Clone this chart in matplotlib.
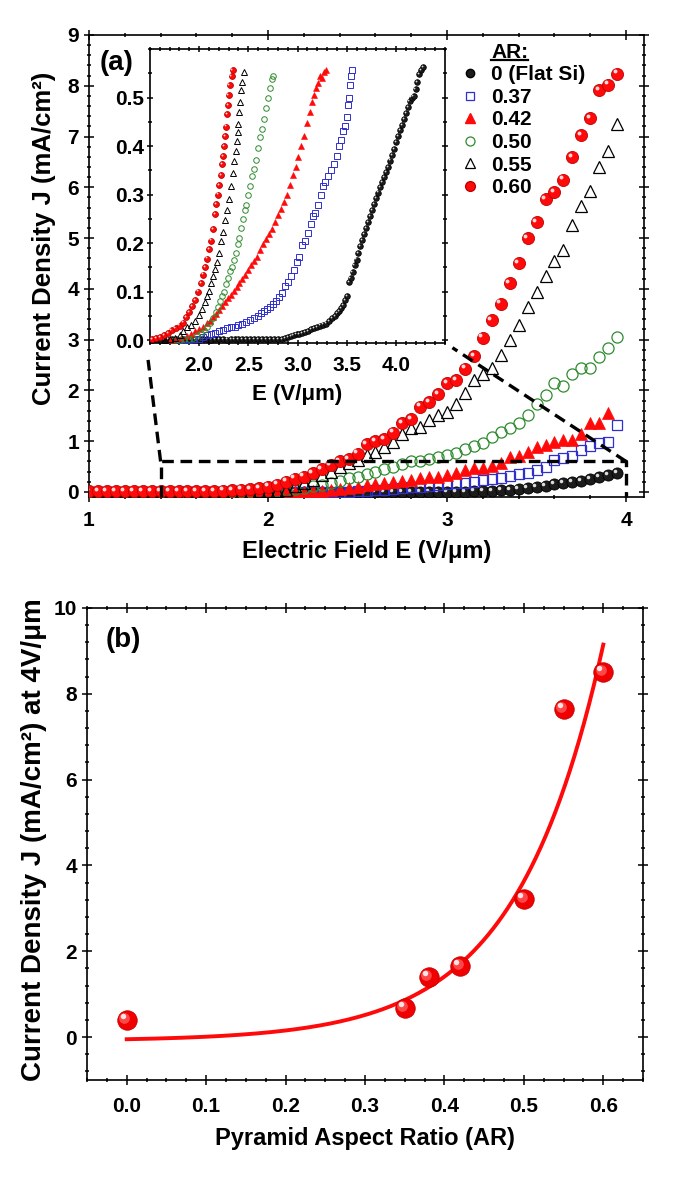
import numpy as np
import matplotlib
matplotlib.use('Agg')
import matplotlib.pyplot as plt
from matplotlib import font_manager
from matplotlib.lines import Line2D
from matplotlib.ticker import MultipleLocator, FormatStrFormatter
from matplotlib.transforms import offset_copy

names = {f.name for f in font_manager.fontManager.ttflist}
NARROW = 'Liberation Sans Narrow' if 'Liberation Sans Narrow' in names else 'Liberation Sans'
WIDE = 'Liberation Sans'
plt.rcParams['font.family'] = [NARROW, 'DejaVu Sans']
plt.rcParams['font.weight'] = 'bold'
plt.rcParams['axes.labelweight'] = 'bold'

# ---- panel (a) main data: J (mA/cm2) on a 0.05 V/um grid starting at 1.00
E = np.round(np.arange(1.0, 3.951, 0.05), 2)
j_ar000 = [0.0] * 43 + [0.01, 0.01, 0.02, 0.03, 0.04, 0.05, 0.07, 0.09, 0.12,
                       0.15, 0.17, 0.20, 0.22, 0.26, 0.29, 0.33, 0.37]
j_ar037 = [0.0] * 30 + [0.01, 0.02, 0.03, 0.04, 0.05, 0.07, 0.09, 0.10, 0.12, 0.14,
                       0.15, 0.17, 0.18, 0.20, 0.24, 0.25, 0.27, 0.31, 0.35, 0.38,
                       0.43, 0.50, 0.62, 0.66, 0.71, 0.83, 0.90, 0.97, 0.99, 1.32]
j_ar042 = [0.0] * 25 + [0.01, 0.02, 0.03, 0.05, 0.07, 0.10, 0.14, 0.15, 0.18, 0.20,
                       0.22, 0.23, 0.27, 0.29, 0.30, 0.33, 0.38, 0.43, 0.47, 0.47,
                       0.51, 0.56, 0.68, 0.71, 0.79, 0.89, 0.92, 0.99, 1.02, 1.02,
                       1.14, 1.35, 1.35, 1.55]
j_ar050 = [0.0] * 21 + [0.01, 0.03, 0.05, 0.08, 0.11, 0.14, 0.17, 0.22, 0.27, 0.30,
                       0.35, 0.40, 0.45, 0.50, 0.55, 0.60, 0.61, 0.64, 0.68, 0.73,
                       0.77, 0.84, 0.90, 0.97, 1.09, 1.18, 1.25, 1.35, 1.51, 1.73,
                       1.91, 2.14, 2.09, 2.33, 2.44, 2.45, 2.66, 2.84, 3.05]
j_ar055 = [0.0] * 18 + [0.00, 0.01, 0.01, 0.02, 0.04, 0.12, 0.18, 0.24, 0.33, 0.40,
                       0.49, 0.56, 0.63, 0.73, 0.79, 0.88, 0.98, 1.15, 1.25, 1.28,
                       1.41, 1.51, 1.58, 1.74, 1.94, 2.21, 2.33, 2.45, 2.70, 3.00,
                       3.28, 3.65, 3.94, 4.26, 4.54, 4.77, 5.26, 5.64, 5.92, 6.40,
                       6.72, 7.24]
j_ar060 = [0.01] * 15 + [0.02, 0.03, 0.04, 0.05, 0.07, 0.10, 0.14, 0.20, 0.26, 0.30,
                        0.37, 0.45, 0.53, 0.60, 0.64, 0.75, 0.94, 1.00, 1.04, 1.17,
                        1.35, 1.43, 1.68, 1.77, 1.93, 2.14, 2.20, 2.43, 2.67, 3.04,
                        3.38, 3.71, 4.11, 4.51, 5.00, 5.31, 5.76, 5.90, 6.15, 6.59,
                        7.03, 7.36, 7.91, 8.02, 8.24]

# ---- panel (a) inset data (E, J) pairs
e_in000 = [1.52, 1.56, 1.60, 1.64, 1.68, 1.72, 1.76, 1.80, 1.84, 1.88, 1.92, 1.96,
           2.00, 2.04, 2.08, 2.12, 2.16, 2.20, 2.24, 2.28, 2.32, 2.36, 2.40, 2.44,
           2.48, 2.52, 2.56, 2.60, 2.64, 2.68, 2.72, 2.76, 2.80, 2.84, 2.87, 2.90,
           2.93, 2.96, 2.99, 3.02, 3.05, 3.08, 3.11, 3.14, 3.17, 3.20, 3.23, 3.26,
           3.29, 3.32, 3.35, 3.38, 3.40, 3.42, 3.44, 3.46, 3.48, 3.50, 3.52, 3.54,
           3.56, 3.58, 3.60, 3.62, 3.64, 3.66, 3.68, 3.70, 3.72, 3.74, 3.76, 3.78,
           3.80, 3.82, 3.84, 3.86, 3.88, 3.90, 3.92, 3.94, 3.96, 3.98, 4.00, 4.02,
           4.04, 4.06, 4.08, 4.10, 4.12, 4.14, 4.16, 4.18, 4.20, 4.22, 4.24, 4.26, 4.28]
j_in000 = [0.001, 0.002, 0.001, 0.002, 0.001, 0.002, 0.002, 0.001, 0.002, 0.001,
           0.002, 0.002, 0.001, 0.002, 0.002, 0.001, 0.002, 0.002, 0.002, 0.001,
           0.002, 0.002, 0.002, 0.002, 0.003, 0.002, 0.002, 0.003, 0.002, 0.003,
           0.003, 0.002, 0.003, 0.003, 0.004, 0.006, 0.008, 0.010, 0.012, 0.013,
           0.015, 0.017, 0.019, 0.022, 0.025, 0.027, 0.030, 0.032, 0.034, 0.040,
           0.045, 0.050, 0.055, 0.060, 0.066, 0.073, 0.082, 0.090, 0.120, 0.128,
           0.141, 0.155, 0.166, 0.180, 0.193, 0.206, 0.218, 0.231, 0.244, 0.256,
           0.268, 0.281, 0.292, 0.304, 0.316, 0.326, 0.336, 0.346, 0.357, 0.370,
           0.382, 0.394, 0.408, 0.420, 0.433, 0.444, 0.456, 0.468, 0.480, 0.492,
           0.500, 0.503, 0.518, 0.532, 0.548, 0.556, 0.562]
e_in037 = [1.80, 1.85, 1.90, 1.95, 2.00, 2.04, 2.08, 2.12, 2.16, 2.20, 2.24, 2.28,
           2.32, 2.36, 2.40, 2.44, 2.48, 2.52, 2.56, 2.60, 2.63, 2.66, 2.69, 2.72,
           2.75, 2.78, 2.81, 2.84, 2.87, 2.90, 2.93, 2.96, 2.99, 3.02, 3.05, 3.08,
           3.11, 3.14, 3.16, 3.18, 3.21, 3.24, 3.26, 3.28, 3.31, 3.34, 3.37, 3.40,
           3.42, 3.44, 3.46, 3.48, 3.50, 3.51, 3.52, 3.53, 3.54, 3.55]
j_in037 = [0.000, 0.001, 0.001, 0.002, 0.003, 0.006, 0.010, 0.013, 0.015, 0.018,
           0.021, 0.024, 0.026, 0.028, 0.031, 0.034, 0.037, 0.041, 0.045, 0.050,
           0.055, 0.060, 0.064, 0.068, 0.074, 0.080, 0.088, 0.098, 0.112, 0.120,
           0.132, 0.145, 0.160, 0.172, 0.195, 0.205, 0.220, 0.240, 0.255, 0.262,
           0.278, 0.300, 0.318, 0.325, 0.338, 0.350, 0.362, 0.380, 0.400, 0.412,
           0.432, 0.442, 0.460, 0.485, 0.500, 0.525, 0.545, 0.556]
e_in042 = [1.70, 1.76, 1.82, 1.88, 1.92, 1.96, 2.00, 2.04, 2.08, 2.11, 2.14, 2.17,
           2.20, 2.23, 2.26, 2.29, 2.32, 2.35, 2.38, 2.41, 2.44, 2.47, 2.50, 2.53,
           2.56, 2.59, 2.62, 2.65, 2.68, 2.71, 2.74, 2.77, 2.80, 2.83, 2.86, 2.89,
           2.92, 2.95, 2.98, 3.01, 3.04, 3.07, 3.10, 3.13, 3.15, 3.17, 3.19, 3.21,
           3.23, 3.25, 3.27, 3.29]
j_in042 = [0.000, 0.002, 0.004, 0.008, 0.012, 0.018, 0.022, 0.028, 0.035, 0.040,
           0.047, 0.054, 0.062, 0.070, 0.078, 0.086, 0.093, 0.101, 0.110, 0.117,
           0.125, 0.135, 0.145, 0.155, 0.162, 0.172, 0.185, 0.198, 0.208, 0.218,
           0.230, 0.243, 0.258, 0.270, 0.285, 0.300, 0.320, 0.340, 0.357, 0.378,
           0.400, 0.420, 0.448, 0.470, 0.490, 0.505, 0.520, 0.530, 0.545, 0.540,
           0.552, 0.556]
e_in050 = [1.75, 1.80, 1.85, 1.90, 1.94, 1.98, 2.02, 2.05, 2.08, 2.11, 2.14, 2.17,
           2.19, 2.21, 2.23, 2.25, 2.27, 2.29, 2.31, 2.33, 2.35, 2.37, 2.39, 2.41,
           2.43, 2.45, 2.47, 2.48, 2.50, 2.52, 2.54, 2.56, 2.58, 2.60, 2.62, 2.64,
           2.66, 2.68, 2.70, 2.72, 2.74, 2.75]
j_in050 = [0.000, 0.001, 0.002, 0.003, 0.005, 0.010, 0.015, 0.020, 0.028, 0.036,
           0.046, 0.058, 0.068, 0.080, 0.090, 0.100, 0.115, 0.128, 0.142, 0.150,
           0.165, 0.180, 0.198, 0.210, 0.232, 0.250, 0.268, 0.278, 0.300, 0.318,
           0.338, 0.352, 0.372, 0.395, 0.418, 0.436, 0.455, 0.478, 0.500, 0.520,
           0.538, 0.545]
e_in055 = [1.65, 1.70, 1.75, 1.80, 1.84, 1.88, 1.92, 1.96, 2.00, 2.03, 2.06, 2.08,
           2.10, 2.12, 2.14, 2.16, 2.18, 2.20, 2.22, 2.24, 2.26, 2.28, 2.30, 2.32,
           2.34, 2.35, 2.37, 2.38, 2.39, 2.40, 2.41, 2.42, 2.43, 2.44, 2.46]
j_in055 = [0.000, 0.002, 0.005, 0.010, 0.018, 0.026, 0.032, 0.040, 0.052, 0.065,
           0.078, 0.090, 0.102, 0.118, 0.132, 0.146, 0.160, 0.180, 0.205, 0.222,
           0.248, 0.268, 0.290, 0.318, 0.345, 0.370, 0.390, 0.410, 0.428, 0.445,
           0.470, 0.490, 0.515, 0.532, 0.552]
e_in060 = [1.52, 1.56, 1.60, 1.64, 1.68, 1.72, 1.76, 1.80, 1.84, 1.87, 1.90, 1.93,
           1.96, 1.99, 2.02, 2.04, 2.06, 2.08, 2.10, 2.12, 2.14, 2.16, 2.17, 2.19,
           2.20, 2.22, 2.23, 2.24, 2.25, 2.26, 2.27, 2.28, 2.29, 2.30, 2.31, 2.33, 2.34]
j_in060 = [0.002, 0.004, 0.006, 0.010, 0.014, 0.020, 0.024, 0.030, 0.036, 0.048,
           0.058, 0.070, 0.082, 0.100, 0.118, 0.135, 0.150, 0.168, 0.188, 0.205,
           0.228, 0.260, 0.280, 0.300, 0.320, 0.340, 0.362, 0.380, 0.400, 0.420,
           0.440, 0.465, 0.485, 0.505, 0.525, 0.545, 0.556]

ar_labels = ['0 (Flat Si)', '0.37', '0.42', '0.50', '0.55', '0.60']

# ---- panel (b) data
ar = [0.0, 0.35, 0.38, 0.42, 0.50, 0.55, 0.60]
j_4v = [0.40, 0.67, 1.40, 1.66, 3.22, 7.64, 8.50]
fit_y0, fit_a, fit_t = -0.0895, 0.0395, 0.11   # exponential fit y0 + A*exp(x/t)

RED = '#ff0a0a'
BLUE = '#2f2fd0'
GREEN = '#2e8b2e'
LBL = dict(family=[WIDE, 'DejaVu Sans'], fontweight='bold')

fig = plt.figure(figsize=(6.85, 11.81), dpi=100)
W, H = 685.0, 1181.0
ax = fig.add_axes([89 / W, 1 - 497 / H, 555 / W, 462 / H])
axi = fig.add_axes([150 / W, 1 - 343 / H, 295 / W, 294 / H])
axb = fig.add_axes([87 / W, 1 - 1080 / H, 556 / W, 472 / H])


def spheres(a, x, y, color, edge, ms, hl=0.32, mid=None, z=3):
    a.plot(x, y, 'o', ms=ms, mfc=color, mec=edge, mew=0.6, ls='none', zorder=z)
    if mid is not None:
        off1 = offset_copy(a.transData, fig=fig, x=-0.12 * ms, y=0.12 * ms, units='points')
        a.plot(x, y, 'o', ms=ms * 0.55, mfc=mid, mec='none', alpha=0.8, ls='none',
               transform=off1, zorder=z + 0.05)
    off = offset_copy(a.transData, fig=fig, x=-0.2 * ms, y=0.2 * ms, units='points')
    a.plot(x, y, 'o', ms=ms * hl, mfc='white', mec='none', alpha=0.85, ls='none',
           transform=off, zorder=z + 0.1)


def style_axes(a, major_len=6.5, minor_len=3.5):
    for s in a.spines.values():
        s.set_linewidth(1.2)
    a.tick_params(which='both', direction='inout', top=True, right=True, width=1.1)
    a.tick_params(which='major', length=major_len)
    a.tick_params(which='minor', length=minor_len)


# ---------------- panel (a)
spheres(ax, E[:len(j_ar000)], j_ar000, '#1c1c1c', 'black', 8.0)
ax.plot(E[:len(j_ar037)], j_ar037, 's', ms=7.0, mfc='none', mec=BLUE, mew=0.9, ls='none', zorder=3.2)
ax.plot(E[:len(j_ar042)], j_ar042, '^', ms=8.0, mfc=RED, mec=RED, mew=0.5, ls='none', zorder=3.3)
ax.plot(E[:len(j_ar050)], j_ar050, 'o', ms=8.0, mfc='none', mec=GREEN, mew=0.9, ls='none', zorder=3.4)
ax.plot(E[:len(j_ar055)], j_ar055, '^', ms=8.0, mfc='none', mec='black', mew=0.9, ls='none', zorder=3.5)
spheres(ax, E[:len(j_ar060)], j_ar060, RED, '#c00000', 8.7, z=3.6)

dash = dict(color='black', lw=2.4, ls=(0, (3.5, 2.0)), zorder=5, clip_on=False)
ax.plot([1.4, 1.4, 4.0, 4.0], [-0.1, 0.6, 0.6, -0.1], **dash)
ax.plot([1.4, 1.33], [0.6, 2.6], **dash)
ax.plot([4.0, 3.03], [0.6, 2.84], **dash)

ax.set_xlim(1, 4.1)
ax.set_ylim(-0.1, 9)
ax.xaxis.set_major_locator(MultipleLocator(1))
ax.xaxis.set_minor_locator(MultipleLocator(0.2))
ax.yaxis.set_major_locator(MultipleLocator(1))
ax.yaxis.set_minor_locator(MultipleLocator(0.2))
style_axes(ax)
ax.tick_params(labelsize=15)
ax.tick_params(axis='x', pad=7)
ax.tick_params(axis='y', pad=4)
ax.set_xlabel('Electric Field E (V/\u03bcm)', fontsize=17, **LBL)
ax.set_ylabel('Current Density J (mA/cm\u00b2)', fontsize=18.5, **LBL)
ax.xaxis.set_label_coords(0.5, -0.093)
ax.yaxis.set_label_coords(-0.06, 0.56)
ax.text(0.02, 0.968, '(a)', transform=ax.transAxes, fontsize=20, va='top', ha='left')

# legend
handles = [Line2D([], [], ls='none'),
           Line2D([], [], marker='o', ls='none', ms=6, mfc='#1c1c1c', mec='black'),
           Line2D([], [], marker='s', ls='none', ms=6, mfc='none', mec=BLUE, mew=0.9),
           Line2D([], [], marker='^', ls='none', ms=6.5, mfc=RED, mec=RED),
           Line2D([], [], marker='o', ls='none', ms=6.5, mfc='none', mec=GREEN, mew=0.9),
           Line2D([], [], marker='^', ls='none', ms=6.5, mfc='none', mec='black', mew=0.9),
           Line2D([], [], marker='o', ls='none', ms=7, mfc=RED, mec='#c00000')]
leg = ax.legend(handles, ['AR:'] + ar_labels, loc='upper left', bbox_to_anchor=(0.672, 0.983),
                frameon=False, fontsize=15, handlelength=0.8, handletextpad=0.6,
                labelspacing=0.17, borderpad=0, borderaxespad=0)

# ---------------- inset
spheres(axi, e_in000, j_in000, '#1c1c1c', 'black', 4.0)
axi.plot(e_in037, j_in037, 's', ms=4.0, mfc='none', mec=BLUE, mew=0.7, ls='none', zorder=3.2)
axi.plot(e_in042, j_in042, '^', ms=4.5, mfc=RED, mec=RED, mew=0.4, ls='none', zorder=3.3)
axi.plot(e_in050, j_in050, 'o', ms=4.0, mfc='none', mec=GREEN, mew=0.7, ls='none', zorder=3.4)
axi.plot(e_in055, j_in055, '^', ms=4.5, mfc='none', mec='black', mew=0.7, ls='none', zorder=3.5)
spheres(axi, e_in060, j_in060, RED, '#c00000', 4.2, z=3.6)
axi.set_xlim(1.5, 4.5)
axi.set_ylim(-0.006, 0.6)
axi.set_xticks([2.0, 2.5, 3.0, 3.5, 4.0])
axi.set_yticks([0.0, 0.1, 0.2, 0.3, 0.4, 0.5])
axi.xaxis.set_minor_locator(MultipleLocator(0.1))
axi.yaxis.set_minor_locator(MultipleLocator(0.05))
axi.xaxis.set_major_formatter(FormatStrFormatter('%.1f'))
axi.yaxis.set_major_formatter(FormatStrFormatter('%.1f'))
style_axes(axi, major_len=5, minor_len=3)
axi.tick_params(labelsize=15)
axi.tick_params(axis='x', pad=7)
axi.tick_params(axis='y', pad=2)
axi.set_xlabel('E (V/\u03bcm)', fontsize=16, labelpad=6)

# ---------------- panel (b)
xfit = np.linspace(0.0, 0.6, 200)
axb.plot(xfit, fit_y0 + fit_a * np.exp(xfit / fit_t), color=RED, lw=2.8, zorder=2)
spheres(axb, ar, j_4v, '#f00000', '#c80000', 14, hl=0.28, mid='#ff5a5a', z=3)
axb.set_xlim(-0.05, 0.65)
axb.set_ylim(-1, 10)
axb.xaxis.set_major_locator(MultipleLocator(0.1))
axb.xaxis.set_minor_locator(MultipleLocator(0.025))
axb.yaxis.set_major_locator(MultipleLocator(2))
axb.yaxis.set_minor_locator(MultipleLocator(0.4))
axb.xaxis.set_major_formatter(FormatStrFormatter('%.1f'))
style_axes(axb)
axb.tick_params(labelsize=15)
axb.tick_params(axis='x', pad=9)
axb.tick_params(axis='y', pad=4)
axb.set_xlabel('Pyramid Aspect Ratio (AR)', fontsize=17, **LBL)
axb.set_ylabel('Current Density J (mA/cm\u00b2) at 4V/\u03bcm', fontsize=20, **LBL)
axb.xaxis.set_label_coords(0.5, -0.1)
axb.yaxis.set_label_coords(-0.072, 0.51)
axb.text(0.034, 0.96, '(b)', transform=axb.transAxes, fontsize=20, va='top', ha='left')

# underline the legend title entry
fig.canvas.draw()
r = fig.canvas.get_renderer()
bb = leg.get_texts()[0].get_window_extent(r)
(x0, y0), (x1, _) = fig.transFigure.inverted().transform([[bb.x0, bb.y0 + 2], [bb.x1, bb.y0]])
fig.add_artist(Line2D([x0, x1], [y0, y0], transform=fig.transFigure, color='black', lw=1.6))

fig.savefig('out.png', dpi=100)
